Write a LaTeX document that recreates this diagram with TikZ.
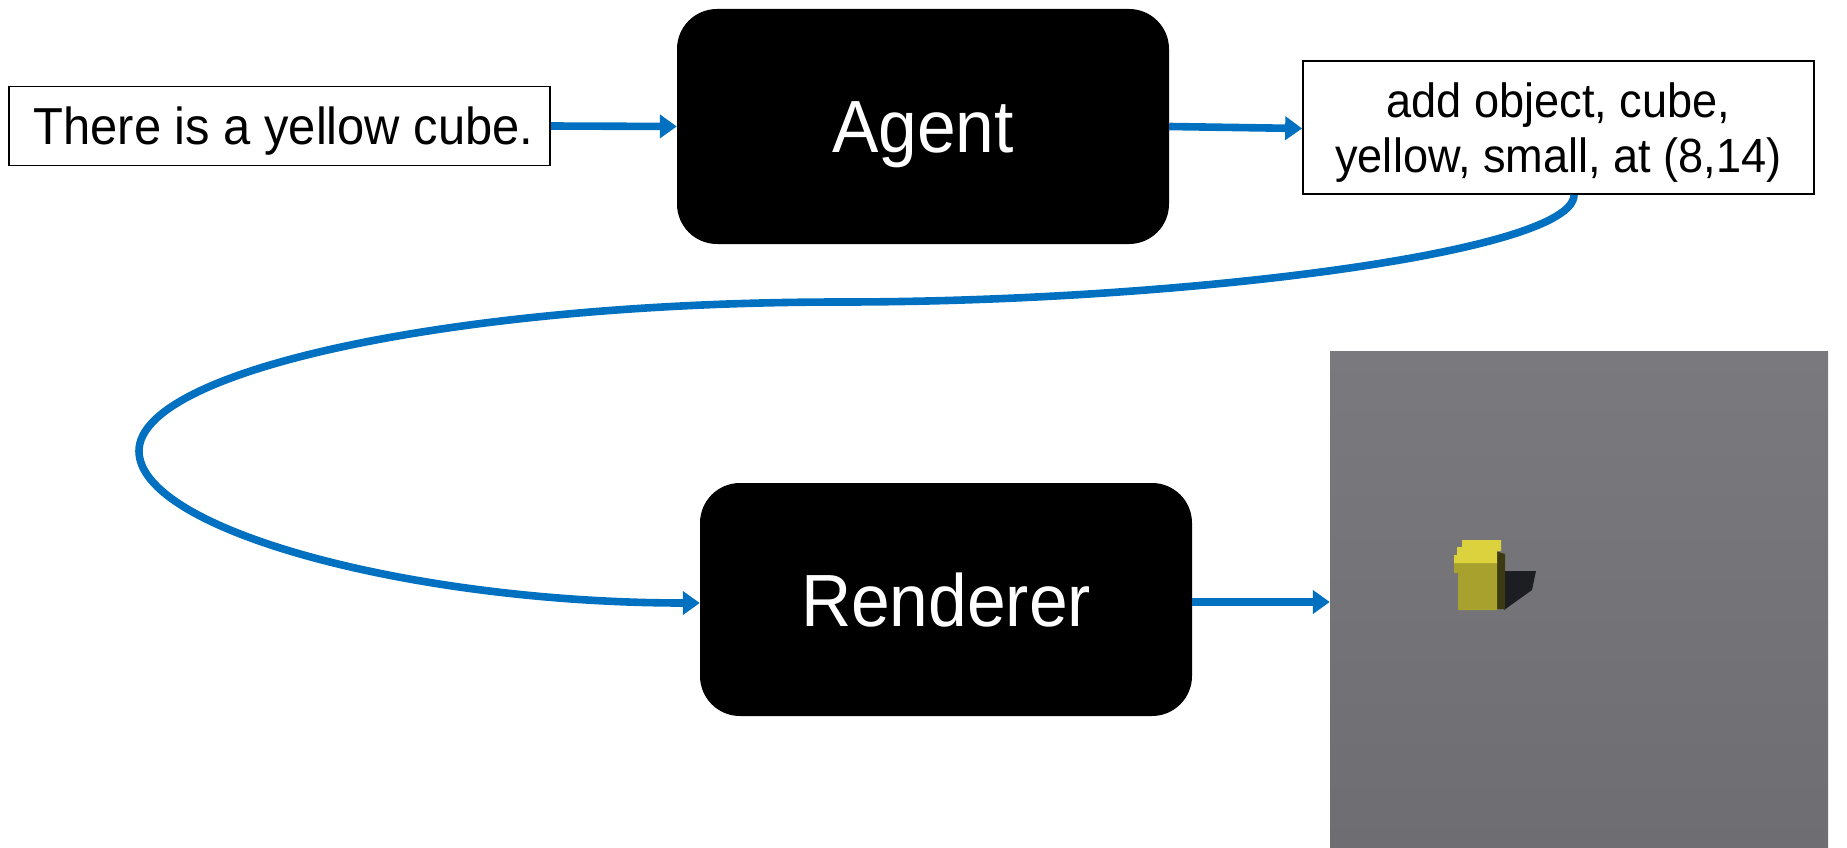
\documentclass[tikz,border=0pt]{standalone}
\usepackage{fontspec}
\setmainfont{Liberation Sans}[FakeStretch=0.94]
\usetikzlibrary{arrows.meta}
\definecolor{flowblue}{HTML}{0070C0}
\definecolor{bgtop}{HTML}{7A7A7E}
\definecolor{bgbot}{HTML}{6E6E72}
\definecolor{cubetop}{HTML}{DCD23E}
\definecolor{cubefront}{HTML}{A9A12E}
\definecolor{cubeside}{HTML}{3C3A12}
\definecolor{cubeshadow}{HTML}{1D1E22}
\tikzset{
  textbox/.style={draw=black, line width=1.7pt, fill=white, inner sep=0pt},
  blockbox/.style={fill=black, rounded corners=40pt, inner sep=0pt},
  label/.style={anchor=base, inner sep=0pt, align=center},
  bigwhite/.style={label, text=white, font=\fontsize{74}{80}\selectfont},
  flow/.style={draw=flowblue, line width=7.6pt,
    -{Triangle[length=17pt,width=23pt]}},
}
\begin{document}
\begin{tikzpicture}[x=1pt,y=-1pt]
\useasboundingbox (0,0) rectangle (1847,848);

% input sentence
\node[textbox, minimum width=541pt, minimum height=79pt] (sent) at (279.5,126) {};
\node[label, font=\fontsize{52}{60}\selectfont] (senttext)
  at ([xshift=4pt,yshift=-18.5pt]sent.center) {There is a yellow cube.};

% agent
\node[blockbox, minimum width=492pt, minimum height=235pt] (agent) at (923,126.5) {};
\node[bigwhite] (agenttext) at ([yshift=-26.5pt]agent.center) {Agent};

% command produced by the agent
\node[textbox, minimum width=511pt, minimum height=133pt] (cmd) at (1558.5,127.5) {};
\node[label, font=\fontsize{48}{55}\selectfont] (cmdtext1)
  at ([yshift=10pt]cmd.center) {add object, cube,};
\node[label, font=\fontsize{48}{55}\selectfont] (cmdtext2)
  at ([yshift=-45pt]cmd.center) {yellow, small, at (8,14)};

% renderer
\node[blockbox, minimum width=492pt, minimum height=233pt] (rend) at (946,599.5) {};
\node[bigwhite] (rendtext) at ([yshift=-26.5pt]rend.center) {Renderer};

% rendered scene
\node[minimum width=498pt, minimum height=497pt, inner sep=0pt,
  top color=bgtop, bottom color=bgbot] (scene) at (1579,599.5) {};
\begin{scope}
  \fill[cubeshadow] (1501,571) -- (1536,571) -- (1532,590) -- (1504,610) -- cycle;
  \fill[cubeside] (1495,551) -- (1505,554) -- (1505,609) -- (1495,609) -- cycle;
  \fill[cubefront] (1454,562) -- (1497,562) -- (1497,610) -- (1458,610) -- (1458,573) -- (1454,573) -- cycle;
  \fill[cubetop] (1462,540) -- (1501,540) -- (1501,551) -- (1497,551) -- (1497,563)
    -- (1454,563) -- (1454,555) -- (1457,555) -- (1457,547) -- (1462,547) -- cycle;
\end{scope}

% connectors
\draw[flow] (sent.east) -- (agent.west);
\draw[flow] (agent.east) -- ([yshift=-1pt]cmd.west);
\draw[flow] ([xshift=15.5pt]cmd.south)
  .. controls (1574,253) and (1178,302) .. (842,302)
  .. controls (455,302) and (139,370) .. (139,451)
  .. controls (139,530) and (412,603) .. ([yshift=-3.5pt]rend.west);
\draw[flow] ([yshift=-2.5pt]rend.east) -- ([yshift=-2.5pt]scene.west);
\end{tikzpicture}
\end{document}
